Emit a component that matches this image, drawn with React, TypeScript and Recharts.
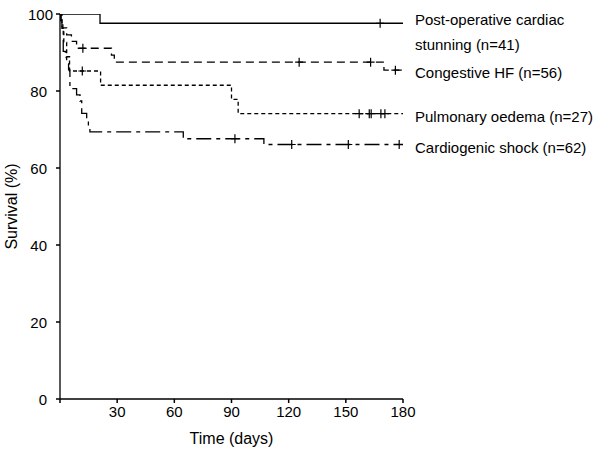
import React from 'react';
import { ComposedChart, Line, Scatter, XAxis, YAxis } from 'recharts';

// Kaplan-Meier step data (time in days, survival in %)
const postopTimes = [0, 21];
const postopSurv = [100, 97.6];
const postopCensored = [168];

const hfTimes = [0, 0.5, 1.5, 3.5, 6, 8.7, 27, 28.5, 170];
const hfSurv = [100, 98.2, 96.4, 94.6, 92.9, 91.1, 89.3, 87.5, 85.4];
const hfCensored = [12, 125.5, 163, 176];

const poTimes = [0, 1, 2, 3.5, 5, 21.3, 90, 93.5];
const poSurv = [100, 96.3, 92.6, 88.9, 85.2, 81.5, 77.8, 74.1];
const poCensored = [11.7, 157, 162.3, 163.3, 168.4, 170.5];

const csTimes = [0, 0.5, 1, 1.7, 2.8, 3.5, 4.5, 5.2, 8.7, 10.5, 11.4, 14, 14.9, 15.7, 64.7, 107];
const csSurv = [100, 98.4, 96.8, 90.3, 88.7, 87.1, 85.5, 80.6, 79.0, 77.4, 74.2, 72.6, 71.0, 69.4, 67.6, 66.1];
const csCensored = [91.8, 121.6, 151.3, 178];

const xTicks = [0, 30, 60, 90, 120, 150, 180];
const yTicks = [0, 20, 40, 60, 80, 100];

const END_TIME = 180;
const FONT = "'Liberation Sans', Arial, Helvetica, sans-serif";
const FS = 15;
const FS_TITLE = 16;

type Pt = { t: number; s: number };

function buildSteps(times: number[], surv: number[]): Pt[] {
  const pts = times.map((t, i) => ({ t, s: surv[i] }));
  pts.push({ t: END_TIME, s: surv[surv.length - 1] });
  return pts;
}

function survAt(times: number[], surv: number[], t: number): number {
  let s = surv[0];
  for (let i = 0; i < times.length; i++) if (times[i] <= t) s = surv[i];
  return s;
}

function buildCensor(times: number[], surv: number[], cens: number[]): Pt[] {
  return cens.map((t) => ({ t, s: survAt(times, surv, t) }));
}

const postop = buildSteps(postopTimes, postopSurv);
const hf = buildSteps(hfTimes, hfSurv);
const po = buildSteps(poTimes, poSurv);
const cs = buildSteps(csTimes, csSurv);

const postopC = buildCensor(postopTimes, postopSurv, postopCensored);
const hfC = buildCensor(hfTimes, hfSurv, hfCensored);
const poC = buildCensor(poTimes, poSurv, poCensored);
const csC = buildCensor(csTimes, csSurv, csCensored);

const Plus = (props: any) => {
  const { cx, cy } = props;
  if (cx == null || cy == null) return <g />;
  return (
    <path
      d={`M${cx - 4},${cy}h8M${cx},${cy - 4.5}v9`}
      stroke="#000"
      strokeWidth={1.2}
      fill="none"
    />
  );
};

const makeEndLabel = (lines: string[], count: number, firstDy: number) => (props: any) => {
  const { x, y, index } = props;
  if (index !== count - 1 || x == null || y == null) return <g key={`l${index}`} />;
  return (
    <text
      key={`l${index}`}
      x={x + 12}
      y={y + firstDy}
      fontFamily={FONT}
      fontSize={FS}
      fill="#000"
      dominantBaseline="central"
    >
      {lines.map((ln, i) => (
        <tspan key={i} x={x + 12} dy={i === 0 ? 0 : 25}>
          {ln}
        </tspan>
      ))}
    </text>
  );
};

const YTick = (props: any) => {
  const { x, y, payload } = props;
  const v = payload.value;
  return (
    <text
      x={v === 100 ? x + 6 : x}
      y={y}
      textAnchor="end"
      dominantBaseline="central"
      fontFamily={FONT}
      fontSize={FS}
      fill="#000"
    >
      {v}
    </text>
  );
};

const YLabel = (props: any) => {
  const vb = props.viewBox || {};
  const cy = (vb.y ?? 14) + (vb.height ?? 385) / 2;
  const cx = 11;
  return (
    <text
      x={cx}
      y={cy}
      transform={`rotate(-90, ${cx}, ${cy})`}
      textAnchor="middle"
      dominantBaseline="central"
      fontFamily={FONT}
      fontSize={FS_TITLE}
      fill="#000"
    >
      Survival (%)
    </text>
  );
};

export default function App() {
  return (
    <div style={{ position: 'absolute', left: 0, top: 0, background: '#fff' }}>
      <ComposedChart
        width={600}
        height={449}
        margin={{ top: 14, right: 197, bottom: 0, left: 0 }}
      >
        <XAxis
          type="number"
          dataKey="t"
          domain={[0, 180]}
          ticks={xTicks}
          tickFormatter={(v: number) => (v === 0 ? '' : String(v))}
          tickSize={4}
          tickMargin={3}
          height={50}
          stroke="#000"
          strokeWidth={1.3}
          tick={{ fill: '#000', fontSize: FS, fontFamily: FONT }}
          tickLine={{ stroke: '#000', strokeWidth: 1.5 }}
          allowDataOverflow
          label={{
            value: 'Time (days)',
            position: 'insideBottom',
            offset: 5,
            fill: '#000',
            fontSize: FS_TITLE,
            fontFamily: FONT,
          }}
        />
        <YAxis
          type="number"
          dataKey="s"
          domain={[0, 100]}
          ticks={yTicks}
          width={60}
          tickSize={4}
          tickMargin={9}
          stroke="#000"
          strokeWidth={1.3}
          tick={<YTick />}
          tickLine={{ stroke: '#000', strokeWidth: 1.5 }}
          allowDataOverflow
          label={<YLabel />}
        />
        <Line
          data={postop}
          dataKey="s"
          type="stepAfter"
          stroke="#000"
          strokeWidth={1.3}
          dot={false}
          isAnimationActive={false}
          label={makeEndLabel(['Post-operative cardiac', 'stunning (n=41)'], postop.length, -4)}
        />
        <Line
          data={hf}
          dataKey="s"
          type="stepAfter"
          stroke="#000"
          strokeWidth={1.3}
          strokeDasharray="8 5"
          dot={false}
          isAnimationActive={false}
          label={makeEndLabel(['Congestive HF (n=56)'], hf.length, 2)}
        />
        <Line
          data={po}
          dataKey="s"
          type="stepAfter"
          stroke="#000"
          strokeWidth={1.3}
          strokeDasharray="4 3"
          dot={false}
          isAnimationActive={false}
          label={makeEndLabel(['Pulmonary oedema (n=27)'], po.length, 2)}
        />
        <Line
          data={cs}
          dataKey="s"
          type="stepAfter"
          stroke="#000"
          strokeWidth={1.3}
          strokeDasharray="15 5 4 5"
          dot={false}
          isAnimationActive={false}
          label={makeEndLabel(['Cardiogenic shock (n=62)'], cs.length, 2)}
        />
        <Scatter data={postopC} dataKey="s" shape={<Plus />} isAnimationActive={false} />
        <Scatter data={hfC} dataKey="s" shape={<Plus />} isAnimationActive={false} />
        <Scatter data={poC} dataKey="s" shape={<Plus />} isAnimationActive={false} />
        <Scatter data={csC} dataKey="s" shape={<Plus />} isAnimationActive={false} />
      </ComposedChart>
    </div>
  );
}
